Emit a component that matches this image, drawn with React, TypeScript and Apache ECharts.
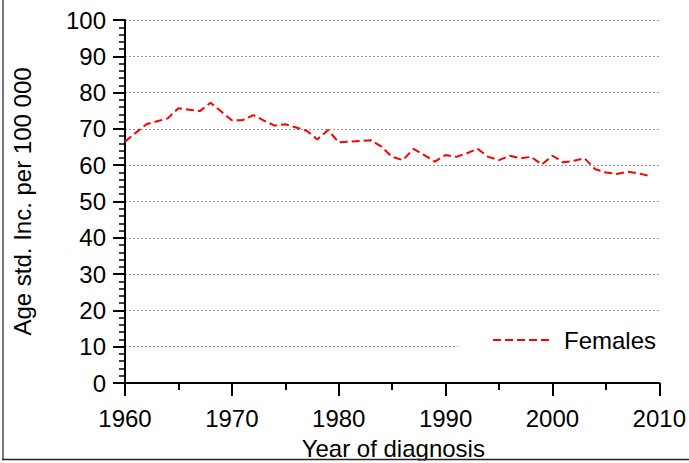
import React, { useEffect, useRef } from "react";
import * as echarts from "echarts";

const years = [
  1960, 1961, 1962, 1963, 1964, 1965, 1966, 1967, 1968, 1969,
  1970, 1971, 1972, 1973, 1974, 1975, 1976, 1977, 1978, 1979,
  1980, 1981, 1982, 1983, 1984, 1985, 1986, 1987, 1988, 1989,
  1990, 1991, 1992, 1993, 1994, 1995, 1996, 1997, 1998, 1999,
  2000, 2001, 2002, 2003, 2004, 2005, 2006, 2007, 2008, 2009,
];
const females = [
  66.5, 68.9, 71.3, 72.1, 72.9, 75.7, 75.3, 74.9, 77.2, 74.8,
  72.4, 72.4, 73.8, 72.3, 70.9, 71.3, 70.4, 69.5, 67.1, 69.7,
  66.3, 66.5, 66.7, 66.9, 65.1, 62.3, 61.4, 64.5, 62.8, 61.0,
  62.8, 62.3, 63.3, 64.5, 62.3, 61.4, 62.6, 61.9, 62.3, 60.2,
  62.6, 60.8, 61.2, 61.9, 58.9, 58.0, 57.6, 58.2, 57.8, 57.1,
];
const seriesName = "Females";
const xTitle = "Year of diagnosis";
const yTitle = "Age std. Inc. per 100 000";

const FONT = "'Liberation Sans', Arial, sans-serif";

export default function App() {
  const ref = useRef<HTMLDivElement>(null);
  useEffect(() => {
    if (!ref.current) return;
    const chart = echarts.init(ref.current, null, { renderer: "svg" });
    chart.setOption({
      animation: false,
      backgroundColor: "#fff",
      textStyle: { fontFamily: FONT },
      grid: { left: 125, right: 28, top: 20, bottom: 80, containLabel: false },
      xAxis: {
        type: "value",
        min: 1960,
        max: 2010,
        interval: 10,
        axisLine: { show: true, onZero: false, lineStyle: { color: "#000", width: 2 } },
        axisTick: { show: true, length: 13, lineStyle: { color: "#000", width: 2 } },
        minorTick: { show: true, splitNumber: 2, length: 7, lineStyle: { color: "#000", width: 2 } },
        splitLine: { show: false },
        axisLabel: {
          color: "#000",
          fontSize: 24,
          fontFamily: FONT,
          margin: 23,
          formatter: (v: number) => String(v),
        },
      },
      yAxis: {
        type: "value",
        min: 0,
        max: 100,
        interval: 10,
        axisLine: { show: true, lineStyle: { color: "#000", width: 2 } },
        axisTick: { show: true, length: 12, lineStyle: { color: "#000", width: 2 } },
        minorTick: { show: true, splitNumber: 5, length: 6, lineStyle: { color: "#000", width: 1.5 } },
        splitLine: { show: true, lineStyle: { color: "#999", width: 1, type: [2, 2] } },
        axisLabel: { color: "#000", fontSize: 24, fontFamily: FONT, margin: 19 },
      },
      legend: {
        show: true,
        data: [seriesName],
        left: 458,
        top: 320,
        orient: "vertical",
        backgroundColor: "#fff",
        padding: [4, 4, 4, 34],
        itemWidth: 60,
        itemHeight: 14,
        selectedMode: false,
        itemStyle: { opacity: 0 },
        lineStyle: { color: "#ff0000", width: 2, type: [8, 4] },
        textStyle: {
          color: "#000",
          fontSize: 24,
          fontFamily: FONT,
          lineHeight: 24,
          padding: [8, 0, 0, 6],
        },
      },
      series: [
        {
          name: seriesName,
          type: "line",
          data: years.map((y, i) => [y, females[i]]),
          symbol: "none",
          showSymbol: false,
          lineStyle: { color: "#ff0000", width: 2, type: [8, 4] },
          itemStyle: { color: "#ff0000" },
        },
      ],
      graphic: [
        {
          type: "text",
          x: 22,
          y: 201.5,
          rotation: Math.PI / 2,
          z: 50,
          style: {
            text: yTitle,
            font: `24px ${FONT}`,
            fill: "#000",
            textAlign: "center",
            textVerticalAlign: "middle",
          },
        },
        {
          type: "text",
          x: 393.3,
          y: 448.5,
          z: 50,
          style: {
            text: xTitle,
            font: `24px ${FONT}`,
            fill: "#000",
            textAlign: "center",
            textVerticalAlign: "middle",
          },
        },
        {
          type: "rect",
          z: 60,
          shape: { x: 0, y: 460.5, width: 689, height: 3 },
          style: { fill: "#fff" },
        },
        {
          type: "line",
          z: 70,
          shape: { x1: 3, y1: 0, x2: 3, y2: 460 },
          style: { stroke: "#777", lineWidth: 2 },
        },
        {
          type: "line",
          z: 70,
          shape: { x1: 2, y1: 459.5, x2: 689, y2: 459.5 },
          style: { stroke: "#222", lineWidth: 1.5 },
        },
      ],
    });
    return () => chart.dispose();
  }, []);
  return (
    <div
      ref={ref}
      style={{ position: "fixed", left: 0, top: 0, width: 689, height: 463 }}
    />
  );
}
